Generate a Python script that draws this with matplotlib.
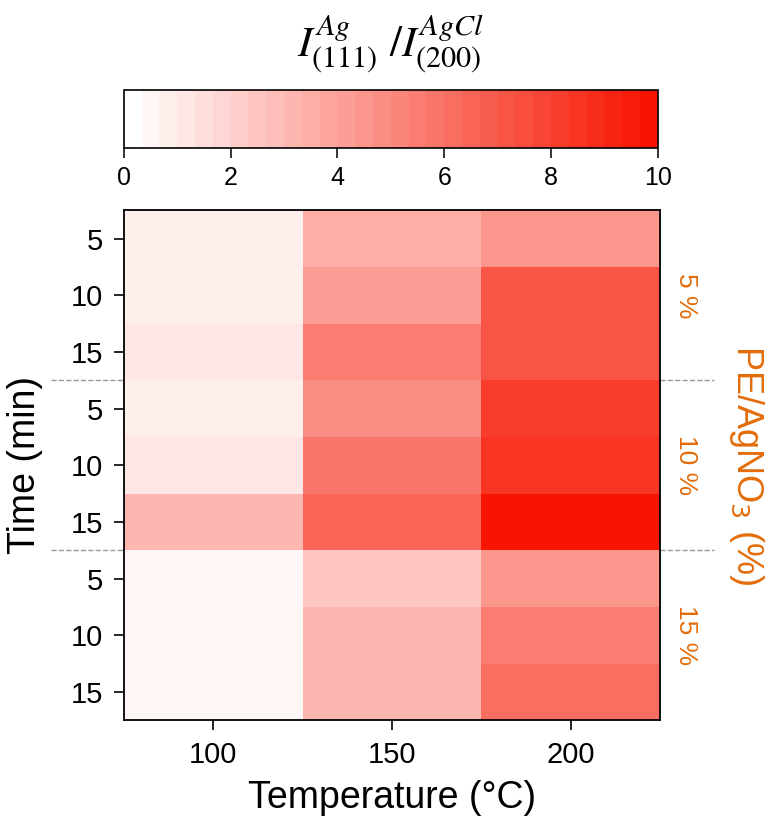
import numpy as np
import matplotlib
matplotlib.use("Agg")
import matplotlib.pyplot as plt
from matplotlib.colors import ListedColormap, BoundaryNorm, to_rgb

plt.rcParams["font.family"] = ["Liberation Sans", "DejaVu Sans"]
plt.rcParams["mathtext.fontset"] = "stix"

temps = [100, 150, 200]
times = [5, 10, 15]
conc_labels = ["5 %", "10 %", "15 %"]

# I(111)Ag / I(200)AgCl, rows = time (5, 10, 15 min), cols = temperature
pe5 = [[0.7, 3.4, 4.6],
       [0.7, 4.1, 7.0],
       [1.0, 5.5, 7.2]]
pe10 = [[0.7, 4.9, 8.3],
        [1.3, 5.8, 8.5],
        [3.2, 6.6, 10.0]]
pe15 = [[0.4, 2.5, 4.5],
        [0.6, 3.2, 5.5],
        [0.6, 3.2, 6.1]]

data = np.array(pe5 + pe10 + pe15)

orange = "#E36C09"
n_levels = 30
white = np.array(to_rgb("#FFFFFF"))
red = np.array(to_rgb("#F71400"))
cols = [white + (red - white) * i / (n_levels - 1) for i in range(n_levels)]
cmap = ListedColormap(cols)
bounds = np.linspace(0, 10, n_levels + 1)
norm = BoundaryNorm(bounds, cmap.N)

fig = plt.figure(figsize=(7.74, 8.25), dpi=100)
ax = fig.add_axes([0.160, 0.127, 0.693, 0.618])
cax = fig.add_axes([0.160, 0.821, 0.690, 0.070])

x_edges = [75, 125, 175, 225]
y_edges = np.arange(data.shape[0] + 1)
mesh = ax.pcolormesh(x_edges, y_edges, data, cmap=cmap, norm=norm)
ax.set_ylim(data.shape[0], 0)
ax.set_xlim(75, 225)

ax.set_xticks(temps)
ax.set_xticklabels([str(t) for t in temps])
ax.set_yticks(np.arange(data.shape[0]) + 0.5)
ax.set_yticklabels([str(t) for t in times * 3])
ax.tick_params(axis="both", labelsize=21, length=7, width=1.2, direction="out", pad=8)
for s in ax.spines.values():
    s.set_linewidth(1.3)

ax.set_xlabel("Temperature (°C)", fontsize=27, labelpad=8)
ax.set_ylabel("Time (min)", fontsize=27, labelpad=20)

# separators between the PE/AgNO3 groups
tr = ax.get_yaxis_transform()
for yb in [3, 6]:
    ax.plot([-0.135, 0], [yb, yb], transform=tr, clip_on=False,
            color="#999999", linestyle="--", linewidth=1)
    ax.plot([1, 1.10], [yb, yb], transform=tr, clip_on=False,
            color="#999999", linestyle="--", linewidth=1)

for i, lab in enumerate(conc_labels):
    ax.text(1.048, 3 * i + 1.5, lab, transform=tr, rotation=-90,
            ha="center", va="center", color=orange, fontsize=19)

ax.text(1.16, 4.5, "PE/AgNO$_3$ (%)", transform=tr, rotation=-90,
        ha="center", va="center", color=orange, fontsize=26,
        math_fontfamily="dejavusans")

cb = fig.colorbar(mesh, cax=cax, orientation="horizontal", ticks=[0, 2, 4, 6, 8, 10])
cb.minorticks_off()
cb.ax.tick_params(labelsize=18, length=7, width=1.1, pad=6)
cb.outline.set_linewidth(1.2)
cax.set_title(r"$I^{Ag}_{(111)}\ /I^{AgCl}_{(200)}$", fontsize=31, pad=24)

fig.savefig("out.png", dpi=100)
